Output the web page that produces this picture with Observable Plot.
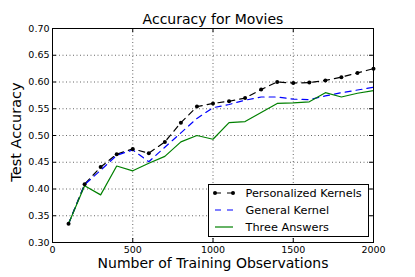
<!DOCTYPE html>
<html>
<head>
<meta charset="utf-8">
<script src="https://cdn.jsdelivr.net/npm/d3@7"></script>
<script src="https://cdn.jsdelivr.net/npm/@observablehq/plot@0.6"></script>
<style>
  html, body { margin: 0; padding: 0; background: white; }
  #chart { width: 415px; height: 277px; }
</style>
</head>
<body>
<div id="chart"></div>
<script>
const observations = [100,200,300,400,500,600,700,800,900,1000,1100,1200,1300,1400,1500,1600,1700,1800,1900,2000];
const personalized = [0.335,0.409,0.441,0.465,0.475,0.467,0.488,0.524,0.554,0.560,0.564,0.570,0.586,0.600,0.598,0.599,0.603,0.609,0.617,0.625];
const general      = [0.335,0.408,0.435,0.463,0.473,0.451,0.478,0.505,0.532,0.552,0.558,0.566,0.572,0.572,0.568,0.567,0.574,0.580,0.585,0.590];
const threeAnswers = [0.335,0.406,0.389,0.443,0.434,0.448,0.461,0.488,0.500,0.493,0.524,0.526,0.543,0.560,0.561,0.563,0.580,0.572,0.579,0.584];
const seriesNames = ["Personalized Kernels","General Kernel","Three Answers"];
const xTicks = [0,500,1000,1500,2000];
const yTicks = [0.30,0.35,0.40,0.45,0.50,0.55,0.60,0.65,0.70];
const title = "Accuracy for Movies";
const xLabel = "Number of Training Observations";
const yLabel = "Test Accuracy";

const colors = ["#000000", "#0000ff", "#008000"];
const dashes = ["6,5", "6,5", null];
const seriesValues = [personalized, general, threeAnswers];
const rows = seriesValues.map(vals => observations.map((x, i) => ({x, y: vals[i]})));

const W = 415, H = 277, mL = 52, mR = 42, mT = 28, mB = 35;
const fw = W - mL - mR, fh = H - mT - mB;
const fmt = d => d.toFixed(2);

const plot = Plot.plot({
  width: W, height: H,
  marginLeft: mL, marginRight: mR, marginTop: mT, marginBottom: mB,
  style: {fontFamily: "DejaVu Sans", fontSize: "9.5px", background: "white", color: "black"},
  x: {domain: [0, 2000]},
  y: {domain: [0.30, 0.70]},
  marks: [
    Plot.ruleX(xTicks.slice(1, -1), {x: d => d, stroke: "black", strokeOpacity: 0.6, strokeDasharray: "1,2.5"}),
    Plot.ruleY(yTicks.slice(1, -1), {y: d => d, stroke: "black", strokeOpacity: 0.6, strokeDasharray: "1,2.5"}),
    Plot.axisX({ticks: xTicks, tickSize: 0, tickPadding: 4, label: null, tickFormat: d => String(d)}),
    Plot.axisY({ticks: yTicks, tickSize: 0, tickPadding: 3, label: null, tickFormat: fmt}),
    Plot.ruleX(xTicks, {x: d => d, insetTop: fh - 4, stroke: "black"}),
    Plot.ruleX(xTicks, {x: d => d, insetBottom: fh - 4, stroke: "black"}),
    Plot.ruleY(yTicks, {y: d => d, insetRight: fw - 4, stroke: "black"}),
    Plot.ruleY(yTicks, {y: d => d, insetLeft: fw - 4, stroke: "black"}),
    ...rows.map((r, i) => Plot.line(r, {x: "x", y: "y", stroke: colors[i], strokeWidth: 1.2, strokeDasharray: dashes[i]})),
    Plot.dot(rows[0], {x: "x", y: "y", r: 2, fill: "black", stroke: null}),
    Plot.frame({stroke: "black", strokeWidth: 1}),
    Plot.text([title], {frameAnchor: "top", lineAnchor: "bottom", dy: -5, fontSize: 14}),
    Plot.text([xLabel], {frameAnchor: "bottom", lineAnchor: "middle", dy: 21, fontSize: 14}),
    Plot.text([yLabel], {frameAnchor: "left", textAnchor: "middle", lineAnchor: "middle", rotate: -90, dx: -36, dy: -3.5, fontSize: 14.5})
  ]
});
document.getElementById("chart").appendChild(plot);

// legend
const svg = d3.select(plot);
const lg = svg.append("g").attr("font-family", "DejaVu Sans").attr("font-size", "11.3px").attr("text-anchor", "start");
lg.append("rect").attr("x", 208.5).attr("y", 184.5).attr("width", 160).attr("height", 52)
  .attr("fill", "white").attr("stroke", "black").attr("stroke-width", 1);
seriesNames.forEach((name, i) => {
  const cy = 193 + i * 17;
  lg.append("line").attr("x1", 215).attr("x2", 233).attr("y1", cy).attr("y2", cy)
    .attr("stroke", colors[i]).attr("stroke-width", 1.2)
    .attr("stroke-dasharray", dashes[i] ? "6,6" : null);
  if (i === 0) {
    [215, 233].forEach(cx => lg.append("circle").attr("cx", cx).attr("cy", cy).attr("r", 2).attr("fill", "black"));
  }
  lg.append("text").attr("x", 245.5).attr("y", cy).attr("dy", "0.35em").attr("fill", "black").attr("text-anchor", "start").text(name);
});
</script>
</body>
</html>
